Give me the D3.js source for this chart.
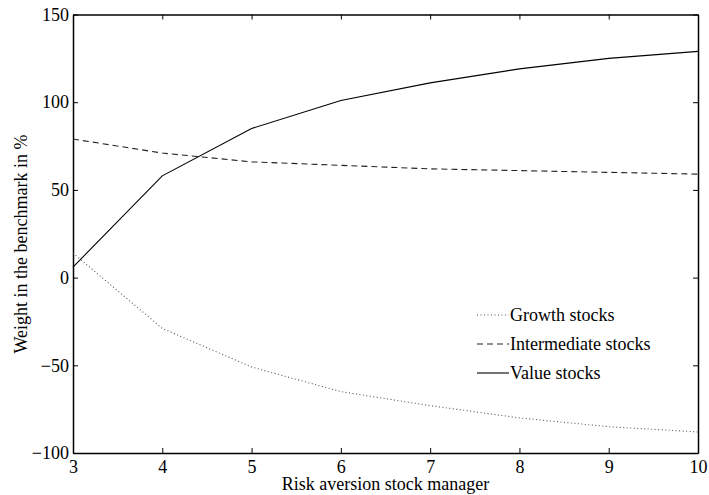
<!DOCTYPE html>
<html>
<head>
<meta charset="utf-8">
<script src="https://cdn.jsdelivr.net/npm/d3@7"></script>
<style>
  body { margin: 0; background: #fff; }
  svg { display: block; }
  text { font-family: "Liberation Serif", "Times New Roman", serif; fill: #000; }
</style>
</head>
<body>
<svg id="chart"></svg>
<script>
// Chart data
const riskAversion = [3, 4, 5, 6, 7, 8, 9, 10];
const growthStocks = [14, -29, -51, -65, -73, -80, -85, -88];
const intermediateStocks = [79, 71, 66, 64, 62, 61, 60, 59];
const valueStocks = [6, 58, 85, 101, 111, 119, 125, 129];
const xTicks = [3, 4, 5, 6, 7, 8, 9, 10];
const yTicks = [-100, -50, 0, 50, 100, 150];

const seriesList = [
  { name: 'Growth stocks', values: growthStocks, dash: '1,2.5', color: '#555' },
  { name: 'Intermediate stocks', values: intermediateStocks, dash: '6,4', color: '#222' },
  { name: 'Value stocks', values: valueStocks, dash: null, color: '#000' }
];

const W = 709, H = 495;
const margin = { left: 73, right: 11, top: 14.5, bottom: 42 };
const fontSize = '18px';

const svg = d3.select('#chart').attr('width', W).attr('height', H);

const x = d3.scaleLinear().domain([3, 10]).range([margin.left, W - margin.right]);
const y = d3.scaleLinear().domain([-100, 150]).range([H - margin.bottom, margin.top]);

const tickLen = 5;

// Axes (ticks inward, box on all four sides)
svg.append('g')
  .attr('transform', `translate(0,${y(-100)})`)
  .call(d3.axisBottom(x).tickValues(xTicks).tickSizeInner(-tickLen).tickSizeOuter(0).tickPadding(7.5)
    .tickFormat(d3.format('d')))
  .call(g => g.selectAll('text').style('font-size', fontSize));

svg.append('g')
  .attr('transform', `translate(0,${y(150)})`)
  .call(d3.axisTop(x).tickValues(xTicks).tickSizeInner(-tickLen).tickSizeOuter(0).tickFormat(''));

svg.append('g')
  .attr('transform', `translate(${x(3)},0)`)
  .call(d3.axisLeft(y).tickValues(yTicks).tickSizeInner(-tickLen).tickSizeOuter(0).tickPadding(4)
    .tickFormat(d => d < 0 ? '\u2212' + Math.abs(d) : d))
  .call(g => g.selectAll('text').style('font-size', fontSize));

svg.append('g')
  .attr('transform', `translate(${x(10)},0)`)
  .call(d3.axisRight(y).tickValues(yTicks).tickSizeInner(-tickLen).tickSizeOuter(0).tickFormat(''));

svg.selectAll('.domain').attr('stroke', '#000').attr('stroke-width', 1.5);
svg.selectAll('.tick line').attr('stroke', '#000').attr('stroke-width', 1);

// Lines
const line = d3.line()
  .x((d, i) => x(riskAversion[i]))
  .y(d => y(d));

seriesList.forEach(s => {
  svg.append('path')
    .datum(s.values)
    .attr('fill', 'none')
    .attr('stroke', s.color)
    .attr('stroke-width', 1.1)
    .attr('stroke-dasharray', s.dash)
    .attr('d', line);
});

// Legend
const legend = svg.append('g').attr('transform', 'translate(477,315)');
seriesList.forEach((s, i) => {
  const row = legend.append('g').attr('transform', `translate(0,${i * 29})`);
  row.append('line')
    .attr('x1', 0).attr('x2', 32)
    .attr('stroke', s.color)
    .attr('stroke-width', 1.1)
    .attr('stroke-dasharray', s.dash);
  row.append('text')
    .attr('x', 33)
    .attr('dy', '0.35em')
    .style('font-size', fontSize)
    .text(s.name);
});

// Axis titles
svg.append('text')
  .attr('x', (x(3) + x(10)) / 2)
  .attr('y', 490)
  .attr('text-anchor', 'middle')
  .style('font-size', fontSize)
  .text('Risk aversion stock manager');

svg.append('text')
  .attr('transform', 'translate(27,244) rotate(-90)')
  .attr('text-anchor', 'middle')
  .style('font-size', fontSize)
  .text('Weight in the benchmark in %');
</script>
</body>
</html>
